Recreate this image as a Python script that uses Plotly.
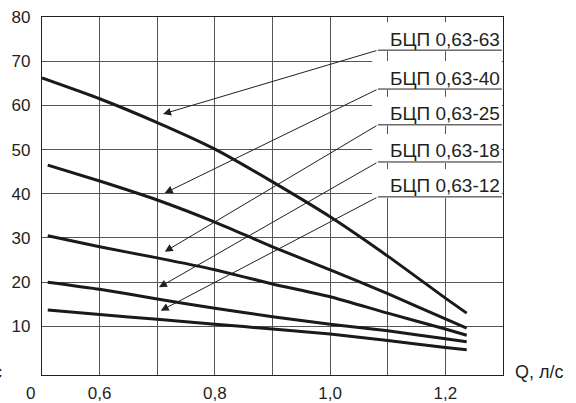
import plotly.graph_objects as go

# ---- data ----
q_start_top = 0.5
q_start = 0.51
q_end = 1.237
q_mid = [0.6, 0.7, 0.8, 0.9, 1.0, 1.1, 1.2]

q_63 = [q_start_top] + q_mid + [q_end]
h_63 = [66.2, 61.5, 56.1, 50.1, 42.7, 34.8, 25.9, 16.4, 13.0]
q_40 = [q_start] + q_mid + [q_end]
h_40 = [46.5, 42.9, 38.6, 33.6, 28.0, 22.8, 17.4, 11.7, 9.6]
q_25 = [q_start] + q_mid + [q_end]
h_25 = [30.5, 28.0, 25.5, 22.8, 19.6, 16.7, 13.0, 9.4, 8.0]
q_18 = [q_start] + q_mid + [q_end]
h_18 = [20.0, 18.4, 16.2, 14.1, 12.2, 10.5, 9.0, 7.2, 6.5]
q_12 = [q_start] + q_mid + [q_end]
h_12 = [13.7, 12.7, 11.6, 10.5, 9.4, 8.3, 6.8, 5.2, 4.7]

curve_names = ["БЦП 0,63-63", "БЦП 0,63-40", "БЦП 0,63-25", "БЦП 0,63-18", "БЦП 0,63-12"]
curves_q = [q_63, q_40, q_25, q_18, q_12]
curves_h = [h_63, h_40, h_25, h_18, h_12]

# arrow heads (points near curves) and label underline positions
arrow_head_q = [0.710, 0.713, 0.713, 0.703, 0.706]
arrow_head_h = [58.05, 40.17, 26.89, 18.83, 13.54]
label_left_q = 1.083
label_right_q = 1.298
label_box_left_q = 1.073
label_line_h = [72.5, 63.7, 55.6, 47.2, 39.3]

x_tick_vals = [0.6, 0.7, 0.8, 0.9, 1.0, 1.1, 1.2]
x_tick_text = ["0,6", "", "0,8", "", "1,0", "", "1,2"]
y_tick_vals = [10, 20, 30, 40, 50, 60, 70, 80]
y_tick_text = ["10", "20", "30", "40", "50", "60", "70", "80"]

TXT = "#231f20"
FONT = "Liberation Sans, Arial, sans-serif"

fig = go.Figure()
for name, qs, hs in zip(curve_names, curves_q, curves_h):
    fig.add_trace(go.Scatter(x=qs, y=hs, mode="lines", name=name,
                             line=dict(color="#1a1a1a", width=3, shape="spline", smoothing=0.5),
                             showlegend=False, hoverinfo="skip"))

shapes = []
annotations = []
unit_per_px = 81 / 358.0
for name, hl, hq, hh in zip(curve_names, label_line_h, arrow_head_q, arrow_head_h):
    shapes.append(dict(type="rect", xref="x", yref="y", layer="above",
                       x0=label_box_left_q, x1=label_right_q,
                       y0=hl - 1 * unit_per_px, y1=hl + 28 * unit_per_px,
                       fillcolor="white", line=dict(width=0)))
    shapes.append(dict(type="line", xref="x", yref="y", layer="above",
                       x0=label_left_q, x1=label_right_q, y0=hl, y1=hl,
                       line=dict(color=TXT, width=1)))
    annotations.append(dict(x=label_right_q, y=hl + 11 * unit_per_px, xref="x", yref="y",
                            text=name, showarrow=False, xanchor="right", yanchor="middle",
                            font=dict(family=FONT, size=19, color=TXT)))
    annotations.append(dict(x=hq, y=hh, xref="x", yref="y", ax=label_left_q, ay=hl,
                            axref="x", ayref="y", text="", showarrow=True,
                            arrowhead=2, arrowsize=1.6, arrowwidth=1, arrowcolor=TXT,
                            standoff=0, startstandoff=0))

annotations.append(dict(x=-0.026, y=-0.052, xref="paper", yref="paper", text="0",
                        showarrow=False, xanchor="center", yanchor="middle",
                        font=dict(family=FONT, size=17, color=TXT)))
annotations.append(dict(x=1.0217, y=0.008, xref="paper", yref="paper", text="Q, л/с",
                        showarrow=False, xanchor="left", yanchor="middle",
                        font=dict(family=FONT, size=18, color=TXT)))
annotations.append(dict(x=-0.082, y=0.008, xref="paper", yref="paper", text="с",
                        showarrow=False, xanchor="right", yanchor="middle",
                        font=dict(family=FONT, size=18, color=TXT)))

fig.update_layout(
    width=576, height=403,
    margin=dict(l=42, r=73, t=17, b=28, autoexpand=False),
    paper_bgcolor="white", plot_bgcolor="white",
    shapes=shapes, annotations=annotations,
    font=dict(family=FONT, size=17, color=TXT),
)
fig.update_xaxes(range=[0.5, 1.3], tickvals=x_tick_vals, ticktext=x_tick_text,
                 showgrid=True, gridcolor="#555555", gridwidth=1.3,
                 showline=True, linecolor="#222222", linewidth=1.3, mirror=True,
                 ticks="", ticklabelstandoff=2, zeroline=False, automargin=False,
                 tickfont=dict(family=FONT, size=17, color=TXT))
fig.update_yaxes(range=[-1, 80], tickvals=y_tick_vals, ticktext=y_tick_text,
                 showgrid=True, gridcolor="#555555", gridwidth=1.3,
                 showline=True, linecolor="#222222", linewidth=1.3, mirror=True,
                 ticks="", ticklabelstandoff=7, zeroline=False, automargin=False,
                 tickfont=dict(family=FONT, size=17, color=TXT))

fig.write_html("out.html", config={"displayModeBar": False},
               post_script="document.body.style.margin='0';")
